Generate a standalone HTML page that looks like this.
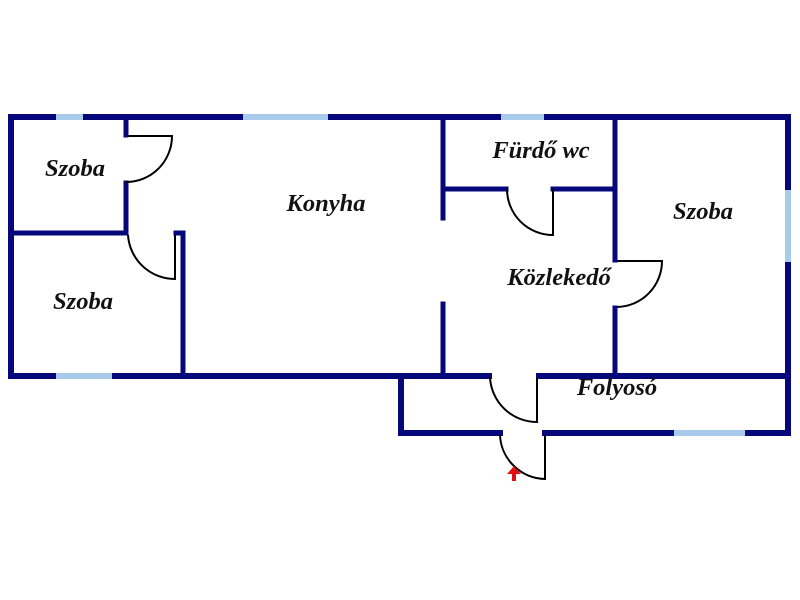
<!DOCTYPE html>
<html><head><meta charset="utf-8"><style>
html,body{margin:0;padding:0;background:#fff;width:800px;height:600px;overflow:hidden}
text{font-family:"Liberation Serif",serif;font-style:italic;font-weight:bold;font-size:24.5px;fill:#111}
</style></head><body>
<svg width="800" height="600" viewBox="0 0 800 600" xmlns="http://www.w3.org/2000/svg">
<g stroke="#07077c" stroke-linecap="square" fill="none">
 <path d="M11 117 H788 V376 H11 Z" stroke-width="6"/>
 <path d="M401 376 V433 H500 M545 433 H788 V376" stroke-width="6"/>
 <g stroke-width="5">
  <path d="M126 117 V135 M126 183 V233 H11"/>
  <path d="M176 233 H183 V376"/>
  <path d="M443 117 V218 M443 304 V376"/>
  <path d="M443 189 H506 M553 189 H615"/>
  <path d="M615 117 V260 M615 308 V376"/>
 </g>
</g>
<g stroke="#fff" stroke-width="8">
 <path d="M492 376 H536"/>
</g>
<g stroke="#a9cbeb" stroke-width="6">
 <path d="M56 117 H83 M243 117 H328 M501 117 H544 M56 376 H112 M674 433 H745"/>
 <path d="M788 190 V262"/>
</g>
<g stroke="#000" stroke-width="2" fill="none">
 <path d="M128 136 H172 A46 46 0 0 1 126 182"/>
 <path d="M128 235 A47 47 0 0 0 175 279 V235"/>
 <path d="M507 189 A46 46 0 0 0 553 235 V189"/>
 <path d="M617 261 H662 A46 46 0 0 1 617 307"/>
 <path d="M490 377 A47 47 0 0 0 537 422 V378"/>
 <path d="M500 435 A46 46 0 0 0 545 479 V435"/>
</g>
<path d="M514 466 L507 474 H512 V481 H516 V474 H521 Z" fill="#e01010"/>
<text x="75" y="176" text-anchor="middle">Szoba</text>
<text x="326" y="211" text-anchor="middle">Konyha</text>
<text x="83" y="309" text-anchor="middle">Szoba</text>
<text x="541" y="158" text-anchor="middle">Fürdő wc</text>
<text x="703" y="219" text-anchor="middle">Szoba</text>
<text x="559" y="285" text-anchor="middle">Közlekedő</text>
<text x="617" y="395" text-anchor="middle">Folyosó</text>
</svg>
</body></html>
